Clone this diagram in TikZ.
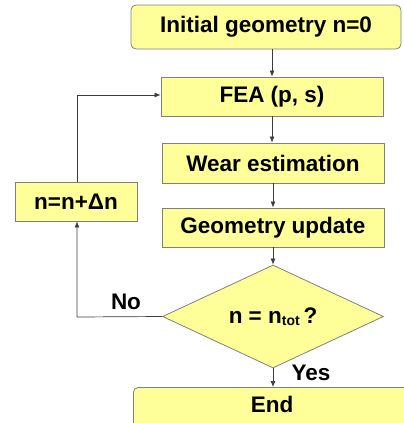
\documentclass[tikz,border=0pt]{standalone}
\usepackage{fontspec}
\setmainfont{Liberation Sans}
\usetikzlibrary{shapes.geometric,arrows.meta}
\definecolor{boxfill}{RGB}{255,255,153}
\definecolor{boxline}{RGB}{128,128,128}
\definecolor{conn}{RGB}{60,60,60}
\tikzset{
  x=1pt,y=-1pt,
  stepbox/.style={draw=boxline,fill=boxfill,line width=0.8pt,font=\bfseries\fontsize{22.5}{26}\selectfont,inner sep=0pt},
  conn/.style={draw=conn,line width=0.7pt,-{Latex[length=6pt,width=5pt]}},
  lbl/.style={font=\bfseries\fontsize{22.5}{26}\selectfont,inner sep=0pt}
}
\begin{document}
\begin{tikzpicture}
\useasboundingbox (0,0) rectangle (404,423);
\clip (0,0) rectangle (404,423);
\node[stepbox,rounded corners=5pt,minimum width=270pt,minimum height=44pt] (init) at (266,27) {Initial geometry n=0};
\node[stepbox,minimum width=222pt,minimum height=39pt] (fea) at (272,96.5) {FEA (p, s)};
\node[stepbox,minimum width=222pt,minimum height=40pt] (wear) at (273,163) {Wear estimation};
\node[stepbox,minimum width=222pt,minimum height=39pt] (geo) at (273,227.5) {Geometry update};
\node[stepbox,diamond,aspect=2.15,minimum width=221pt,minimum height=103pt] (dec) at (273,316.5) {n = n\raisebox{-0.2ex}{\fontsize{14}{16}\selectfont tot}\,?};
\node[stepbox,minimum width=122pt,minimum height=39pt] (inc) at (76,201.5) {n=n+Δn};
\node[stepbox,rounded corners=5pt,minimum width=300pt,minimum height=60pt,anchor=north west] (end) at (133,387) {};
\node[lbl] (endt) at (272,404) {End};
\coordinate (turn1) at (77,95);
\coordinate (turn2) at (77,317);
\draw[conn] (init.south -| fea.north) -- (fea.north);
\draw[conn] (fea.south) -- (wear.north -| fea.south);
\draw[conn] (wear.south) -- (geo.north);
\draw[conn] (geo.south) -- (dec.north);
\draw[conn] (dec.south) -- (dec.south |- end.north);
\draw[conn] (dec.west) -- (turn2) -- (inc.south -| turn2);
\draw[conn] (inc.north -| turn1) -- (turn1) -- (turn1 -| fea.west);
\node[lbl] (no) at (126,302) {No};
\node[lbl] (yes) at (311,373) {Yes};
\end{tikzpicture}
\end{document}
